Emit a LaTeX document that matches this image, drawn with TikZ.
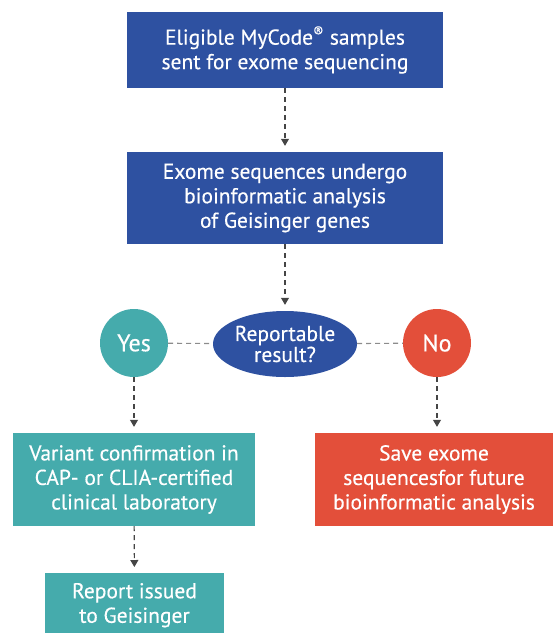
\documentclass[tikz,border=0pt]{standalone}
\usepackage{fontspec}
\setmainfont{PT Sans}[FakeBold=0.35]
\usetikzlibrary{arrows.meta,shapes.geometric}
\definecolor{gblue}{HTML}{2E51A1}
\definecolor{gteal}{HTML}{45ABAC}
\definecolor{gred}{HTML}{E34F3A}
\definecolor{garrow}{HTML}{454545}
\tikzset{
  box/.style={rectangle, draw=none, fill=#1, text=white, align=center, inner sep=0pt,
    font=\fontsize{21.5}{24.5}\selectfont},
  circ/.style={circle, fill=#1, text=white, inner sep=0pt, minimum size=68pt,
    font=\fontsize{24}{24}\selectfont},
  flow/.style={draw=garrow, line width=1.1pt, dash pattern=on 5pt off 4pt,
    -{Triangle[width=8pt,length=7pt]}, shorten >=6pt},
  link/.style={draw=gray!90, line width=1.1pt, dash pattern=on 5pt off 4pt}
}
\begin{document}
\begin{tikzpicture}[x=1pt,y=-1pt]
\useasboundingbox (0,0) rectangle (560,633);
\node[box=gblue, minimum width=316pt, minimum height=76pt] (b1) at (285,50)
  {Eligible MyCode\textsuperscript{®} samples\\sent for exome sequencing};
\node[box=gblue, minimum width=316pt, minimum height=92pt] (b2) at (285,198)
  {Exome sequences undergo\\bioinformatic analysis\\of Geisinger genes};
\node[ellipse, fill=gblue, text=white, inner sep=0pt, minimum width=144pt, minimum height=66pt,
  align=center, font=\fontsize{21.5}{21}\selectfont] (q) at (285,344) {Reportable\\result?};
\node[circ=gteal] (yes) at (134,343) {Yes};
\node[circ=gred] (no) at (437,343) {No};
\node[box=gteal, minimum width=242pt, minimum height=93pt] (v) at (134,479.5)
  {Variant confirmation in\\CAP- or CLIA-certified\\clinical laboratory};
\node[box=gred, minimum width=238pt, minimum height=93pt] (s) at (434,479.5)
  {Save exome\\sequencesfor future\\bioinformatic analysis};
\node[box=gteal, minimum width=179pt, minimum height=64pt, anchor=north] (r) at (134.5,573)
  {Report issued\\to Geisinger};
\draw[flow] (b1) -- (b2);
\draw[flow] (b2) -- (q);
\draw[link] (yes) -- (q);
\draw[link] (q) -- (no);
\draw[flow] (yes) -- (v);
\draw[flow] (no) -- (no |- s.north);
\draw[flow] (v) -- (r);
\end{tikzpicture}
\end{document}
